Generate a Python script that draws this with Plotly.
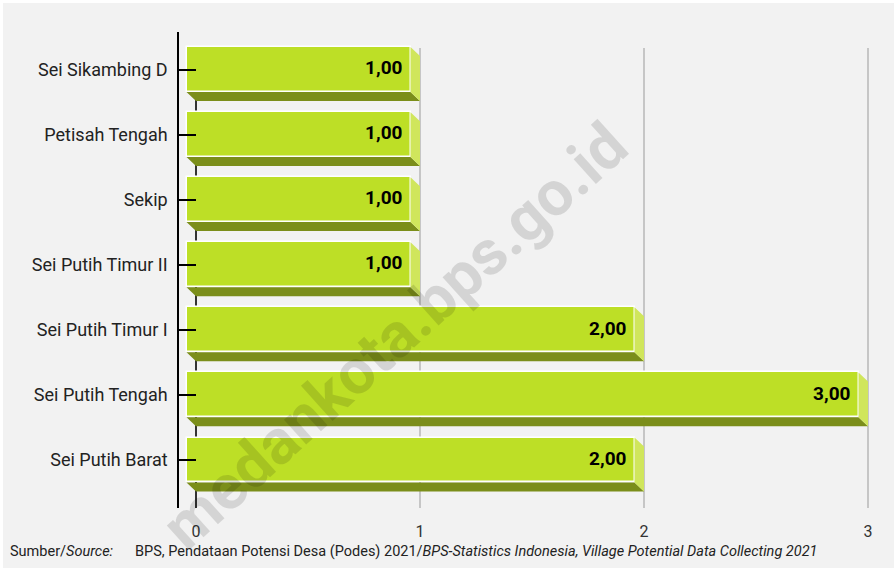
import plotly.graph_objects as go

categories = ["Sei Sikambing D", "Petisah Tengah", "Sekip", "Sei Putih Timur II",
              "Sei Putih Timur I", "Sei Putih Tengah", "Sei Putih Barat"]
values = [1, 1, 1, 1, 2, 3, 2]
x_ticks = [0, 1, 2, 3]

FRONT = "#bddf26"
SIDE = "#d0e65c"
BOTTOM = "#7b8e1a"

PX_X = 224.0      # pixels per unit on x
PX_Y = 65.08      # pixels per category
DX = 9.5 / PX_X   # depth in x (data units)
DY = 9.0 / PX_Y   # depth in y (data units)
W = 0.69          # bar thickness

idx = list(range(len(categories)))
labels = [f"{v:.2f}".replace(".", ",") for v in values]

# 3D faces
bx, by, sx, sy = [], [], [], []
for i, v in zip(idx, values):
    x0, x1 = -DX, v - DX
    yt, yb = i - W / 2, i + W / 2
    bx += [x0, x1, x1 + DX, x0 + DX, x0, None]
    by += [yb, yb, yb + DY, yb + DY, yb, None]
    sx += [x1, x1 + DX, x1 + DX, x1, x1, None]
    sy += [yt, yt + DY, yb + DY, yb, yt, None]

fig = go.Figure()
fig.add_trace(go.Scatter(x=bx, y=by, fill="toself", fillcolor=BOTTOM, mode="lines",
                         line=dict(width=0, color=BOTTOM), hoverinfo="skip", showlegend=False))
fig.add_trace(go.Scatter(x=sx, y=sy, fill="toself", fillcolor=SIDE, mode="lines",
                         line=dict(width=0, color=SIDE), hoverinfo="skip", showlegend=False))
fig.add_trace(go.Bar(x=values, y=idx, base=[-DX] * len(values), orientation="h", width=W,
                     marker=dict(color=FRONT, line=dict(color="white", width=1.5)),
                     showlegend=False, hoverinfo="skip"))
fig.add_trace(go.Scatter(x=[v - DX - 8 / PX_X for v in values], y=idx, mode="text",
                         text=labels, textposition="middle left",
                         textfont=dict(family="Roboto", size=19, color="black", weight="bold"),
                         showlegend=False, hoverinfo="skip"))

L, R, T, B = 179, 22, 32, 60
plot_w = 894 - L - R
plot_h = 568 - T - B
x_lo = -(196 - L) / PX_X
x_hi = x_lo + plot_w / PX_X
y_top = (T - 69.5) / PX_Y
y_bot = (568 - B - 69.5) / PX_Y
y_wall = (48 - 69.5) / PX_Y


def px(xp):
    return (xp - L) / plot_w


def py(yp):
    return (568 - B - yp) / plot_h


SRC_FONT = dict(family="Roboto", size=14.5, color="#222222")

fig.update_layout(
    width=894, height=568,
    margin=dict(l=L, r=R, t=T, b=B, pad=0),
    paper_bgcolor="#f2f2f2", plot_bgcolor="rgba(0,0,0,0)",
    font=dict(family="Roboto", size=16, color="#222222"),
    bargap=0,
    xaxis=dict(range=[x_lo, x_hi], tickvals=x_ticks, ticktext=[str(t) for t in x_ticks],
               showgrid=True, gridcolor="#c6c6c6", gridwidth=1.5,
               zeroline=True, zerolinecolor="#333333", zerolinewidth=1.5,
               showline=False, ticks="", ticklabelstandoff=12, automargin=False,
               tickfont=dict(family="Roboto", size=16, color="#333333"), fixedrange=True),
    yaxis=dict(range=[y_bot, y_top], tickvals=idx, ticktext=categories,
               showgrid=False, zeroline=False,
               showline=True, linecolor="black", linewidth=1.5,
               ticks="inside", ticklen=17, tickcolor="black", tickwidth=1.5,
               ticklabelstandoff=6, automargin=False,
               tickfont=dict(family="Roboto", size=18, color="#222222"), fixedrange=True),
    shapes=[
        # white frame strips at top and left edge
        dict(type="rect", xref="paper", yref="paper",
             x0=px(-5), x1=px(900), y0=py(3), y1=py(-5),
             fillcolor="white", line=dict(width=0), layer="below"),
        dict(type="rect", xref="paper", yref="paper",
             x0=px(-5), x1=px(3), y0=py(575), y1=py(-5),
             fillcolor="white", line=dict(width=0), layer="below"),
        # hide grid above the back wall
        dict(type="rect", xref="x", yref="y",
             x0=x_lo + 1 / PX_X, x1=x_hi, y0=y_wall, y1=y_top,
             fillcolor="#f2f2f2", line=dict(width=0), layer="between"),
    ],
    annotations=[
        dict(text="medankota.bps.go.id", xref="paper", yref="paper",
             x=px(394), y=py(336), xanchor="center", yanchor="middle",
             showarrow=False, textangle=-42,
             font=dict(family="Roboto", size=63, color="rgba(0,0,0,0.12)", weight="bold")),
        dict(text="Sumber/<i>Source:</i>", xref="paper", yref="paper",
             x=px(8), y=py(551), xanchor="left", yanchor="middle",
             showarrow=False, font=SRC_FONT),
        dict(text="BPS, Pendataan Potensi Desa (Podes) 2021/<i>BPS-Statistics Indonesia, Village Potential Data Collecting 2021</i>",
             xref="paper", yref="paper",
             x=px(133), y=py(551), xanchor="left", yanchor="middle",
             showarrow=False, font=SRC_FONT),
    ],
)

fig.write_html("out.html", config={"displayModeBar": False},
               post_script="document.body.style.margin='0';document.body.style.padding='0';")
